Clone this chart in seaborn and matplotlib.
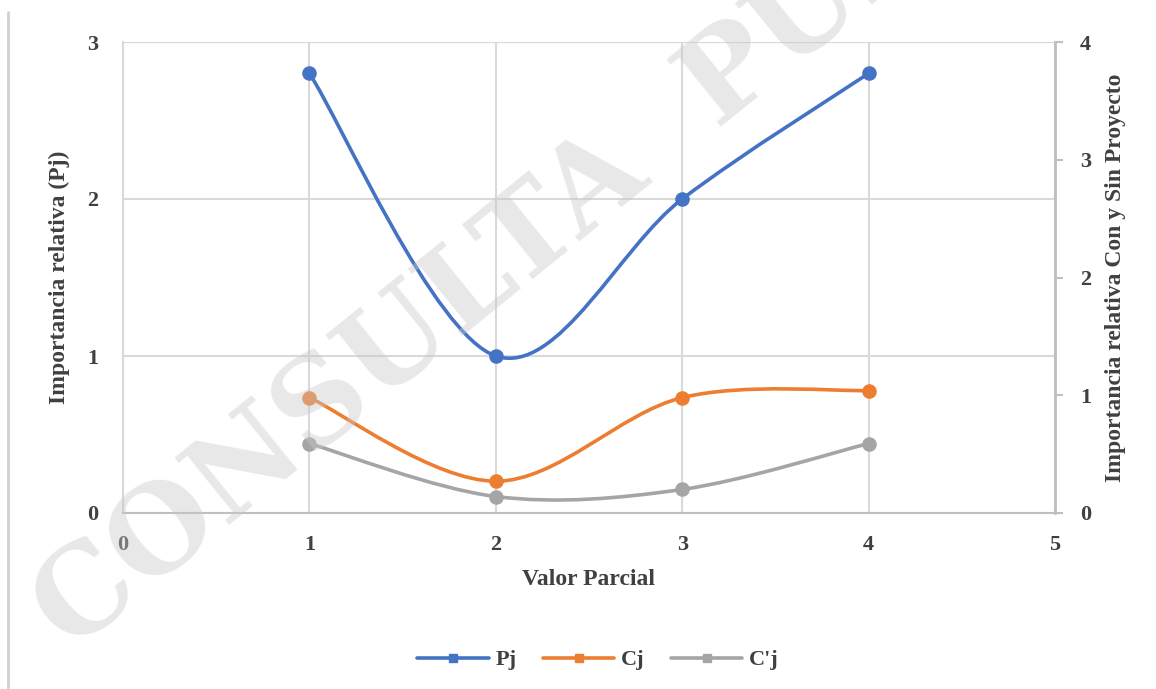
import numpy as np
import pandas as pd
import matplotlib
matplotlib.use("Agg")
import matplotlib.pyplot as plt
import seaborn as sns
from matplotlib.path import Path
from matplotlib.patches import PathPatch
from matplotlib.lines import Line2D

# ---- data ----
valor_parcial = [1, 2, 3, 4]
pj = [2.8, 1.0, 2.0, 2.8]          # left axis
cj = [0.98, 0.27, 0.98, 1.04]      # right axis
cpj = [0.59, 0.14, 0.20, 0.59]     # right axis
series_names = ["Pj", "Cj", "C'j"]
colors = ["#4472C4", "#ED7D31", "#A5A5A5"]

sns.set_theme(style="white")
plt.rcParams['font.family'] = ['Liberation Serif', 'DejaVu Serif']

fig = plt.figure(figsize=(11.56, 6.89), dpi=100)
ax = fig.add_axes([123/1156, 1-513/689, (1055-123)/1156, (513-42)/689])
ax2 = ax.twinx()


def smooth_path(xs, ys):
    pts = np.column_stack([xs, ys]).astype(float)
    n = len(pts)
    ext = np.vstack([pts[0], pts, pts[-1]])
    verts = [pts[0]]
    codes = [Path.MOVETO]
    for i in range(n - 1):
        p0, p1, p2, p3 = ext[i], ext[i+1], ext[i+2], ext[i+3]
        c1 = p1 + (p2 - p0) / 6.0
        c2 = p2 - (p3 - p1) / 6.0
        verts += [c1, c2, p2]
        codes += [Path.CURVE4] * 3
    return Path(verts, codes)


def draw(axis, ys, color):
    patch = PathPatch(smooth_path(valor_parcial, ys), facecolor='none',
                      edgecolor=color, lw=2.6, transform=axis.transData,
                      zorder=3, capstyle='round')
    axis.add_patch(patch)
    df = pd.DataFrame({"x": valor_parcial, "y": ys})
    sns.scatterplot(data=df, x="x", y="y", ax=axis, color=color, s=110,
                    edgecolor=color, linewidth=0, zorder=4, legend=False)


draw(ax, pj, colors[0])
draw(ax2, cj, colors[1])
draw(ax2, cpj, colors[2])

ax.set_xlim(0, 5)
ax.set_ylim(0, 3)
ax2.set_ylim(0, 4)
ax.set_xticks([0, 1, 2, 3, 4, 5])
ax.set_yticks([0, 1, 2, 3])
ax2.set_yticks([0, 1, 2, 3, 4])

grid_c = "#d9d9d9"
ax.grid(True, color=grid_c, lw=1.5)
ax.set_axisbelow(True)
for s in ["top"]:
    ax.spines[s].set_visible(False)
    ax2.spines[s].set_visible(False)
ax.spines["left"].set_color(grid_c)
ax.spines["left"].set_linewidth(1.5)
ax.spines["bottom"].set_color("#bfbfbf")
ax.spines["bottom"].set_linewidth(1.5)
ax2.spines["left"].set_visible(False)
ax2.spines["bottom"].set_visible(False)
ax2.spines["right"].set_color("#bfbfbf")
ax2.spines["right"].set_linewidth(2)
ax.spines["right"].set_visible(False)
ax.axhline(3, color=grid_c, lw=1.5, zorder=0)

ax.tick_params(axis='y', length=0, pad=18, labelcolor="#404040")
ax.tick_params(axis='x', length=0, pad=16, labelcolor="#404040")
ax2.tick_params(axis='y', length=6, width=1.5, color="#bfbfbf", pad=12,
                labelcolor="#404040", direction='out')
for lab in ax.get_xticklabels() + ax.get_yticklabels() + ax2.get_yticklabels():
    lab.set_fontweight('bold')
    lab.set_fontsize(16)

ax.set_xlabel("Valor Parcial", fontsize=17, fontweight='bold', color="#404040", labelpad=10)
ax.set_ylabel("Importancia relativa (Pj)", fontsize=17, fontweight='bold', color="#404040", labelpad=12)
ax2.set_ylabel("Importancia relativa Con y Sin Proyecto", fontsize=17, fontweight='bold',
               color="#404040", labelpad=10)

handles = [Line2D([0], [0], color=c, lw=2.6, marker='s', markersize=6) for c in colors]
fig.legend(handles, series_names, loc='center', bbox_to_anchor=(598/1156, 1-660/689),
           ncol=3, frameon=False, prop=dict(family='Liberation Serif', weight='bold', size=16),
           handlelength=3.2, columnspacing=1.2, handletextpad=0.3, labelcolor="#404040")

# left frame line
fig.add_artist(Line2D([8/1156, 8/1156], [0, 1-12/689], transform=fig.transFigure,
                      color="#d0d0d0", lw=2))

# watermark
fig.text(50/1156, 1-628/689, "CONSULTA  PÚBLICA", fontsize=86, fontweight='bold',
         family='DejaVu Serif', color="#c8c8c8", rotation=39, ha='left', va='center',
         rotation_mode='anchor', alpha=0.42, zorder=10)

fig.savefig("out.png", dpi=100)
